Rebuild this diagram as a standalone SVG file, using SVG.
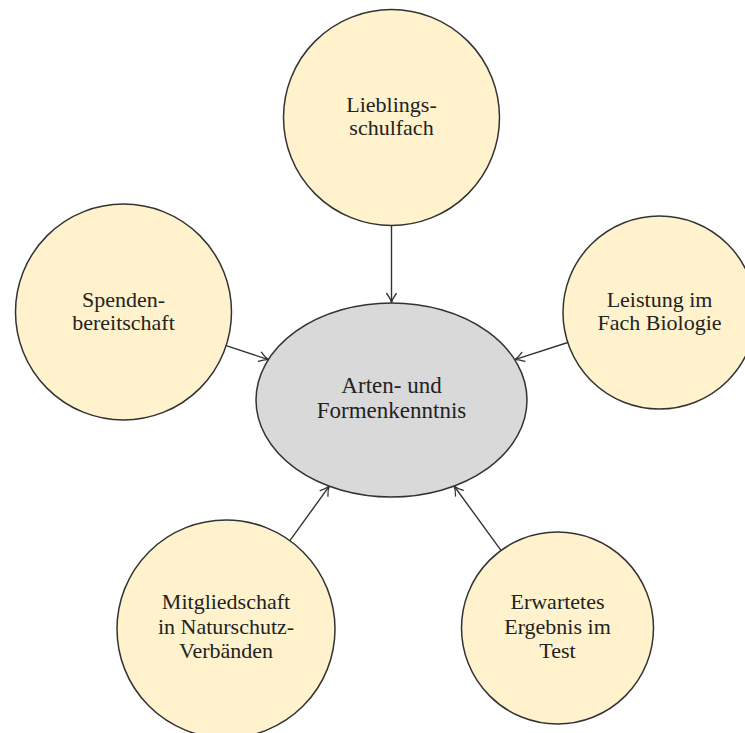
<svg xmlns="http://www.w3.org/2000/svg" width="745" height="733" viewBox="0 0 745 733">
  <style>
    .factor { fill: #FFF2CC; stroke: #333333; stroke-width: 1.5; }
    .target { fill: #D9D9D9; stroke: #333333; stroke-width: 1.5; }
    .label { font-family: "Liberation Serif", "DejaVu Serif", serif; font-size: 22px; fill: #222222; text-anchor: middle; }
    .edge { fill: none; stroke: #333333; stroke-width: 1.4; marker-end: url(#arrow); }
  </style>
  <defs>
    <marker id="arrow" markerUnits="userSpaceOnUse" markerWidth="14" markerHeight="14" viewBox="-11 -7 13 14" refX="0" refY="0" orient="auto">
      <path d="M -9,-4.8 Q -4,-1 0,0 Q -4,1 -9,4.8" fill="none" stroke="#333333" stroke-width="1.3" stroke-linecap="round"/>
    </marker>
  </defs>

  <rect width="745" height="733" fill="#FFFFFF"/>

  <!-- connectors: every factor points at the central ellipse -->
  <g id="connectors">
    <line class="edge" x1="391.5" y1="225.5" x2="391.5" y2="302.5"/>
    <line class="edge" x1="226.1" y1="345.7" x2="268.4" y2="359.6"/>
    <line class="edge" x1="567.8" y1="342.5" x2="514.8" y2="359.7"/>
    <line class="edge" x1="289.9" y1="540.6" x2="329.3" y2="486.1"/>
    <line class="edge" x1="501" y1="550.4" x2="454.1" y2="486"/>
  </g>

  <g id="node-center">
    <ellipse class="target" cx="391.5" cy="400" rx="135.5" ry="97"/>
    <text class="label" x="391.5" y="393" style="font-size:23px">Arten- und</text>
    <text class="label" x="391.5" y="418" style="font-size:23px">Formenkenntnis</text>
  </g>

  <g id="node-lieblingsschulfach">
    <circle class="factor" cx="391.5" cy="117.5" r="108"/>
    <text class="label" x="391.5" y="112">Lieblings-</text>
    <text class="label" x="391.5" y="135">schulfach</text>
  </g>

  <g id="node-spendenbereitschaft">
    <circle class="factor" cx="123.5" cy="312" r="108"/>
    <text class="label" x="123.5" y="307">Spenden-</text>
    <text class="label" x="123.5" y="330">bereitschaft</text>
  </g>

  <g id="node-leistung">
    <circle class="factor" cx="659.5" cy="312.5" r="96.5"/>
    <text class="label" x="659.5" y="307">Leistung im</text>
    <text class="label" x="659.5" y="330">Fach Biologie</text>
  </g>

  <g id="node-mitgliedschaft">
    <circle class="factor" cx="226" cy="629" r="109"/>
    <text class="label" x="226" y="609">Mitgliedschaft</text>
    <text class="label" x="226" y="634">in Naturschutz-</text>
    <text class="label" x="226" y="658">Verbänden</text>
  </g>

  <g id="node-ergebnis">
    <circle class="factor" cx="557.5" cy="628" r="96"/>
    <text class="label" x="557.5" y="609">Erwartetes</text>
    <text class="label" x="557.5" y="634">Ergebnis im</text>
    <text class="label" x="557.5" y="658">Test</text>
  </g>
</svg>
